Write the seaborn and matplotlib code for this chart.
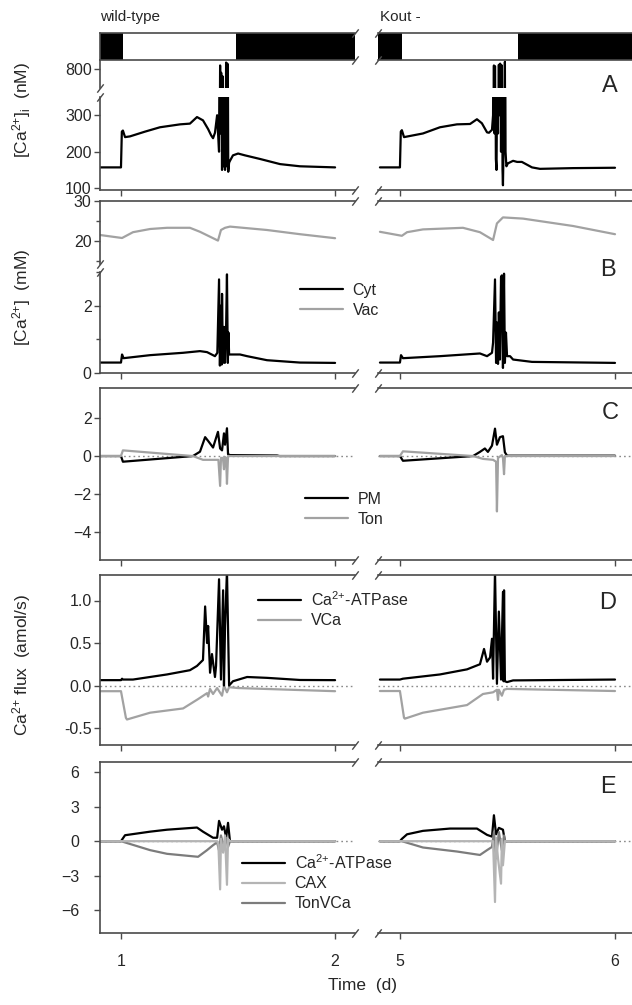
import pandas as pd
import seaborn as sns
import matplotlib
matplotlib.use('Agg')
from matplotlib import pyplot as plt

# light period (d), white part of the top bar
light_wt = [1.009, 1.537]
light_ko = [5.009, 5.549]

# A: cytosolic [Ca2+]i (nM)
a_wt = [(0.902, 157), (1.0, 157), (1.004, 255), (1.009, 258), (1.019, 240), (1.042, 242), (1.112, 255),
        (1.182, 267), (1.276, 275), (1.322, 277), (1.355, 295), (1.383, 286), (1.407, 262), (1.421, 245),
        (1.430, 237), (1.439, 252), (1.449, 300), (1.458, 200), (1.463, 810), (1.466, 250), (1.468, 790),
        (1.472, 150), (1.475, 780), (1.478, 160), (1.482, 400), (1.486, 150), (1.491, 818), (1.494, 160),
        (1.497, 815), (1.501, 145), (1.505, 170), (1.509, 175), (1.523, 190), (1.547, 195), (1.579, 190),
        (1.650, 180), (1.743, 166), (1.836, 160), (2.0, 157)]
a_ko = [(4.907, 157), (5.0, 157), (5.004, 255), (5.009, 259), (5.019, 240), (5.107, 250), (5.186, 267),
        (5.265, 275), (5.326, 276), (5.358, 289), (5.381, 278), (5.405, 253), (5.414, 252), (5.428, 260),
        (5.433, 300), (5.437, 810), (5.440, 250), (5.442, 808), (5.446, 180), (5.449, 150), (5.452, 400),
        (5.456, 250), (5.460, 812), (5.463, 300), (5.466, 815), (5.470, 200), (5.474, 810), (5.477, 150),
        (5.479, 108), (5.484, 300), (5.488, 820), (5.491, 200), (5.495, 160), (5.502, 168), (5.526, 175),
        (5.545, 172), (5.567, 172), (5.614, 157), (5.651, 153), (5.805, 155), (6.0, 156)]

# B: cytosolic and vacuolar [Ca2+] (mM)
b_cyt_wt = [(0.902, 0.31), (1.0, 0.31), (1.005, 0.55), (1.012, 0.44), (1.136, 0.53), (1.290, 0.60),
            (1.369, 0.65), (1.402, 0.62), (1.439, 0.50), (1.450, 0.6), (1.458, 2.78), (1.462, 0.22),
            (1.467, 2.0), (1.470, 0.25), (1.472, 2.35), (1.476, 0.3), (1.481, 1.37), (1.485, 0.3),
            (1.490, 1.0), (1.495, 2.93), (1.499, 0.3), (1.502, 1.2), (1.505, 0.55), (1.556, 0.55),
            (1.589, 0.5), (1.682, 0.38), (1.836, 0.31), (2.0, 0.30)]
b_vac_wt = [(0.902, 21.5), (1.005, 20.75), (1.056, 22.2), (1.136, 23.0), (1.215, 23.3), (1.322, 23.3),
            (1.369, 22.3), (1.453, 20.1), (1.467, 22.75), (1.486, 23.3), (1.509, 23.6), (1.682, 22.75),
            (1.836, 21.7), (2.0, 20.7)]
b_cyt_ko = [(4.907, 0.31), (5.0, 0.31), (5.005, 0.53), (5.014, 0.44), (5.186, 0.50), (5.372, 0.58),
            (5.405, 0.50), (5.428, 0.6), (5.433, 0.9), (5.442, 2.78), (5.447, 0.3), (5.451, 1.5),
            (5.456, 0.27), (5.460, 1.8), (5.465, 0.4), (5.470, 2.85), (5.474, 2.9), (5.479, 0.15),
            (5.484, 2.95), (5.488, 0.3), (5.493, 1.2), (5.498, 0.5), (5.512, 0.5), (5.526, 0.4),
            (5.614, 0.33), (6.0, 0.30)]
b_vac_ko = [(4.907, 22.3), (5.009, 21.3), (5.033, 22.2), (5.107, 22.9), (5.293, 23.3), (5.372, 22.2),
            (5.433, 20.25), (5.451, 24.4), (5.479, 25.9), (5.572, 25.6), (5.805, 23.75), (6.0, 21.7)]

# C: PM and tonoplast Ca2+ flux (amol/s)
c_pm_wt = [(0.902, 0), (1.0, 0), (1.009, -0.3), (1.336, 0), (1.369, 0.23), (1.393, 1.0), (1.407, 0.8),
           (1.430, 0.45), (1.453, 1.28), (1.463, 0.4), (1.472, 0.3), (1.481, 1.2), (1.486, 0.6),
           (1.495, 1.47), (1.500, 0.1), (1.509, 0.05), (1.729, 0.03), (1.74, 0.0), (2.0, 0.0)]
c_ton_wt = [(0.902, 0), (1.0, 0), (1.009, 0.3), (1.336, 0), (1.383, -0.2), (1.430, -0.2), (1.455, -0.2),
            (1.463, -1.58), (1.467, -0.1), (1.476, -0.1), (1.481, -0.7), (1.486, -0.05), (1.491, -0.1),
            (1.495, -1.47), (1.500, 0), (2.0, 0)]
c_pm_ko = [(4.907, 0), (5.0, 0), (5.014, -0.25), (5.340, 0), (5.372, 0.22), (5.395, 0.4), (5.409, 0.22),
           (5.428, 0.55), (5.442, 1.45), (5.451, 0.6), (5.465, 1.0), (5.479, 1.05), (5.488, 0.2),
           (5.498, 0.02), (6.0, 0.02)]
c_ton_ko = [(4.907, 0), (5.0, 0), (5.014, 0.25), (5.340, 0), (5.386, -0.15), (5.433, -0.2), (5.447, -0.3),
            (5.451, -2.93), (5.456, -0.1), (5.474, 0.05), (5.479, -0.1), (5.484, -0.96), (5.488, 0), (6.0, 0)]

# D: Ca2+-ATPase and VCa flux (amol/s)
d_atp_wt = [(0.902, 0.063), (1.0, 0.063), (1.005, 0.08), (1.009, 0.07), (1.056, 0.07), (1.215, 0.13),
            (1.322, 0.18), (1.355, 0.23), (1.383, 0.30), (1.393, 0.93), (1.402, 0.5), (1.407, 0.7),
            (1.416, 0.15), (1.425, 0.37), (1.439, 0.1), (1.444, 0.23), (1.458, 1.25), (1.467, 0.07),
            (1.477, 1.12), (1.481, 0.0), (1.486, 0.7), (1.495, 1.35), (1.505, 0.0), (1.523, 0.05),
            (1.589, 0.1), (1.682, 0.09), (1.836, 0.065), (2.0, 0.063)]
d_vca_wt = [(0.902, -0.067), (1.0, -0.067), (1.023, -0.38), (1.028, -0.40), (1.136, -0.32), (1.290, -0.27),
            (1.360, -0.16), (1.402, -0.09), (1.407, -0.13), (1.416, -0.04), (1.430, -0.1), (1.449, -0.03),
            (1.472, -0.12), (1.481, 0.0), (1.495, -0.08), (1.505, -0.02), (1.547, -0.03), (2.0, -0.067)]
d_atp_ko = [(4.907, 0.07), (5.0, 0.07), (5.014, 0.08), (5.186, 0.13), (5.312, 0.19), (5.372, 0.25),
            (5.391, 0.43), (5.405, 0.28), (5.419, 0.33), (5.428, 0.55), (5.433, 0.08), (5.442, 1.35),
            (5.451, 0.02), (5.460, 0.87), (5.470, 0.07), (5.479, 1.1), (5.482, 0.05), (5.484, 1.12),
            (5.488, 0.05), (5.498, 0.04), (5.526, 0.06), (6.0, 0.07)]
d_vca_ko = [(4.907, -0.065), (5.0, -0.065), (5.019, -0.38), (5.023, -0.39), (5.107, -0.32), (5.312, -0.23),
            (5.386, -0.1), (5.433, -0.08), (5.451, -0.05), (5.456, -0.17), (5.460, -0.05), (5.474, -0.12),
            (5.484, -0.05), (5.498, -0.04), (6.0, -0.065)]

# E: Ca2+-ATPase, CAX and TonVCa flux (amol/s)
e_atp_wt = [(0.902, 0), (1.0, 0), (1.019, 0.52), (1.136, 0.83), (1.215, 1.0), (1.355, 1.19), (1.383, 0.83),
            (1.430, 0.3), (1.449, 0.3), (1.458, 1.77), (1.472, 1.0), (1.481, 1.3), (1.491, 0.3),
            (1.500, 1.6), (1.509, 0.0), (2.0, 0.0)]
e_cax_wt = [(0.902, 0), (1.449, 0), (1.455, -0.3), (1.463, -4.2), (1.467, 0.2), (1.477, -1.0), (1.486, 0.5),
            (1.495, -3.8), (1.500, 0.2), (1.509, 0), (2.0, 0)]
e_ton_wt = [(0.902, 0), (1.0, 0), (1.136, -0.78), (1.215, -1.1), (1.360, -1.36), (1.402, -0.78),
            (1.430, -0.35), (1.449, -0.1), (1.458, -0.8), (1.467, 0.5), (1.481, -0.6), (1.491, 0.3),
            (1.500, -0.5), (1.509, 0.0), (2.0, 0.0)]
e_atp_ko = [(4.907, 0), (5.0, 0), (5.009, 0.2), (5.033, 0.6), (5.107, 0.9), (5.233, 1.1), (5.358, 1.1),
            (5.405, 0.55), (5.428, 0.4), (5.437, 2.26), (5.447, 0.6), (5.460, 1.16), (5.479, 1.0),
            (5.488, 0.0), (6.0, 0.0)]
e_cax_ko = [(4.907, 0), (5.433, 0), (5.442, -5.3), (5.447, 0.3), (5.456, -1.5), (5.470, -3.7), (5.474, 0.2),
            (5.479, -2.1), (5.488, 0), (6.0, 0)]
e_ton_ko = [(4.907, 0), (5.009, 0), (5.107, -0.55), (5.265, -0.9), (5.372, -1.2), (5.405, -0.78),
            (5.428, -0.5), (5.437, 0.8), (5.447, -1.5), (5.460, 0.8), (5.474, -0.8), (5.484, 0.5),
            (5.488, 0), (6.0, 0)]

sns.set_style('ticks')
plt.rcParams['font.family'] = ['Liberation Sans', 'DejaVu Sans']
plt.rcParams['mathtext.default'] = 'regular'

BLACK = '#000000'
GRAY = '#a2a2a2'
LGRAY = '#b4b4b4'
DGRAY = '#7c7c7c'
SPINE = '#4a4a4a'
FS = 11.5

W, H = 632, 1005
fig = plt.figure(figsize=(W / 100, H / 100), dpi=100)

cols = {'wt': (100, 355), 'ko': (378, 632)}
xlims = {'wt': (0.902, 2.093), 'ko': (4.898, 6.079)}
xticks = {'wt': [1, 2], 'ko': [5, 6]}
rows = {'bar': (33, 60), 'a_hi': (60, 88), 'a_lo': (97, 190), 'b_hi': (201, 264),
        'b_lo': (272, 373), 'c': (388, 560), 'd': (575, 745), 'e': (762, 933)}

brk = dict(marker=[(-1, -1.3), (1, 1.3)], markersize=6, linestyle='none', color=SPINE,
           mec=SPINE, mew=1, clip_on=False, zorder=10)


def make_ax(col, row, top, bottom):
    x0, x1 = cols[col]
    t, b = rows[row]
    ax = fig.add_axes([x0 / W, 1 - b / H, (x1 - x0) / W, (b - t) / H])
    ax.set_facecolor('none')
    ax.set_xlim(*xlims[col])
    for s in ax.spines.values():
        s.set_color(SPINE)
        s.set_linewidth(1.2)
    ax.spines['right'].set_visible(False)
    ax.spines['top'].set_visible(top)
    ax.spines['bottom'].set_visible(bottom)
    ax.spines['left'].set_visible(col == 'wt')
    ax.set_xticks(xticks[col])
    ax.tick_params(which='both', direction='out', width=1, color=SPINE,
                   bottom=bottom, labelbottom=False, left=(col == 'wt'), labelleft=(col == 'wt'))
    ax.tick_params(which='major', length=4, labelsize=FS, pad=2)
    ax.tick_params(which='minor', length=3)
    # break marks where the time axis is cut
    xb = 1 if col == 'wt' else 0
    if top:
        ax.plot([xb], [1], transform=ax.transAxes, **brk)
    if bottom:
        ax.plot([xb], [0], transform=ax.transAxes, **brk)
    return ax


def line(ax, pts, color, lw=1.6):
    df = pd.DataFrame(pts, columns=['t', 'v'])
    sns.lineplot(data=df, x='t', y='v', ax=ax, color=color, lw=lw,
                 estimator=None, sort=False, legend=False)
    ax.set_xlabel('')
    ax.set_ylabel('')
    return ax.lines[-1]


def zero(ax):
    ax.axhline(0, color='#8a8a8a', lw=1, ls=(0, (1.2, 2.2)), zorder=0)


data = {
    'wt': dict(light=light_wt, a=a_wt, cyt=b_cyt_wt, vac=b_vac_wt, pm=c_pm_wt, ton=c_ton_wt,
               atp=d_atp_wt, vca=d_vca_wt, eatp=e_atp_wt, cax=e_cax_wt, eton=e_ton_wt),
    'ko': dict(light=light_ko, a=a_ko, cyt=b_cyt_ko, vac=b_vac_ko, pm=c_pm_ko, ton=c_ton_ko,
               atp=d_atp_ko, vca=d_vca_ko, eatp=e_atp_ko, cax=e_cax_ko, eton=e_ton_ko),
}

handles = {}
for col, d in data.items():
    # light / dark bar
    ax = make_ax(col, 'bar', True, True)
    ax.set_facecolor('black')
    ax.axvspan(d['light'][0], d['light'][1], color='white', lw=0)
    ax.tick_params(bottom=False, left=False, labelleft=False)
    ax.set_yticks([])

    # A (broken y axis)
    ax = make_ax(col, 'a_hi', False, False)
    line(ax, d['a'], BLACK)
    ax.set_ylim(748, 825)
    ax.set_yticks([800])
    if col == 'wt':
        ax.plot([0], [0], transform=ax.transAxes, **brk)
    ax = make_ax(col, 'a_lo', False, True)
    line(ax, d['a'], BLACK)
    ax.set_ylim(95, 350)
    ax.set_yticks([100, 200, 300])
    if col == 'wt':
        ax.plot([0], [1], transform=ax.transAxes, **brk)

    # B (broken y axis)
    ax = make_ax(col, 'b_hi', True, False)
    line(ax, d['vac'], GRAY)
    line(ax, d['cyt'], BLACK)
    ax.set_ylim(14.25, 30.0)
    ax.set_yticks([20, 30])
    ax.set_yticks([15, 25], minor=True)
    if col == 'wt':
        ax.plot([0], [0], transform=ax.transAxes, **brk)
    ax = make_ax(col, 'b_lo', False, True)
    hc = line(ax, d['cyt'], BLACK)
    hv = line(ax, d['vac'], GRAY)
    ax.set_ylim(0, 3.0)
    ax.set_yticks([0, 2])
    ax.set_yticks([1, 3], minor=True)
    if col == 'wt':
        ax.plot([0], [1], transform=ax.transAxes, **brk)
        handles['b'] = [hc, hv]

    # C
    ax = make_ax(col, 'c', True, True)
    zero(ax)
    hp = line(ax, d['pm'], BLACK)
    ht = line(ax, d['ton'], GRAY)
    ax.set_ylim(-5.5, 3.6)
    ax.set_yticks([-4, -2, 0, 2])
    if col == 'wt':
        handles['c'] = [hp, ht]

    # D
    ax = make_ax(col, 'd', True, True)
    zero(ax)
    hv2 = line(ax, d['vca'], GRAY)
    ha = line(ax, d['atp'], BLACK)
    ax.set_ylim(-0.7, 1.3)
    ax.set_yticks([-0.5, 0.0, 0.5, 1.0])
    ax.set_yticklabels(['-0.5', '0.0', '0.5', '1.0'])
    if col == 'wt':
        handles['d'] = [ha, hv2]

    # E
    ax = make_ax(col, 'e', True, True)
    zero(ax)
    he1 = line(ax, d['eatp'], BLACK)
    he3 = line(ax, d['eton'], DGRAY)
    he2 = line(ax, d['cax'], LGRAY)
    ax.set_ylim(-8, 6.9)
    ax.set_yticks([-6, -3, 0, 3, 6])
    ax.tick_params(labelbottom=True, pad=11)
    if col == 'wt':
        handles['e'] = [he1, he2, he3]

# legends
leg_kw = dict(loc='upper left', frameon=False, fontsize=FS, handlelength=2.7, handletextpad=0.6,
              labelspacing=0.3, borderaxespad=0, borderpad=0)
fig.legend(handles['b'], ['Cyt', 'Vac'], bbox_to_anchor=(300 / W, 1 - 283 / H), **leg_kw)
fig.legend(handles['c'], ['PM', 'Ton'], bbox_to_anchor=(305 / W, 1 - 492 / H), **leg_kw)
fig.legend(handles['d'], ['Ca$^{2{+}}$-ATPase', 'VCa'], bbox_to_anchor=(258 / W, 1 - 590 / H), **leg_kw)
fig.legend(handles['e'], ['Ca$^{2{+}}$-ATPase', 'CAX', 'TonVCa'], bbox_to_anchor=(242 / W, 1 - 853 / H), **leg_kw)

# panel letters
for letter, (px, py) in zip('ABCDE', [(610, 86), (608, 270), (610, 413), (608, 603), (608, 787)]):
    fig.text(px / W, 1 - py / H, letter, ha='center', va='center', fontsize=17)

# titles and axis labels
fig.text(100 / W, 1 - 17 / H, 'wild-type', ha='left', va='center', fontsize=11)
fig.text(380 / W, 1 - 17 / H, 'Kout -', ha='left', va='center', fontsize=11)
fig.text(22 / W, 1 - 110 / H, '[Ca$^{2{+}}$]$_i$  (nM)', rotation=90, ha='center', va='center', fontsize=12.5)
fig.text(22 / W, 1 - 297 / H, '[Ca$^{2{+}}$]  (mM)', rotation=90, ha='center', va='center', fontsize=12.5)
fig.text(22 / W, 1 - 665 / H, 'Ca$^{2{+}}$ flux  (amol/s)', rotation=90, ha='center', va='center', fontsize=12.5)
fig.text(362 / W, 1 - 985 / H, 'Time  (d)', ha='center', va='center', fontsize=12.5)

plt.savefig('out.png', dpi=100)
